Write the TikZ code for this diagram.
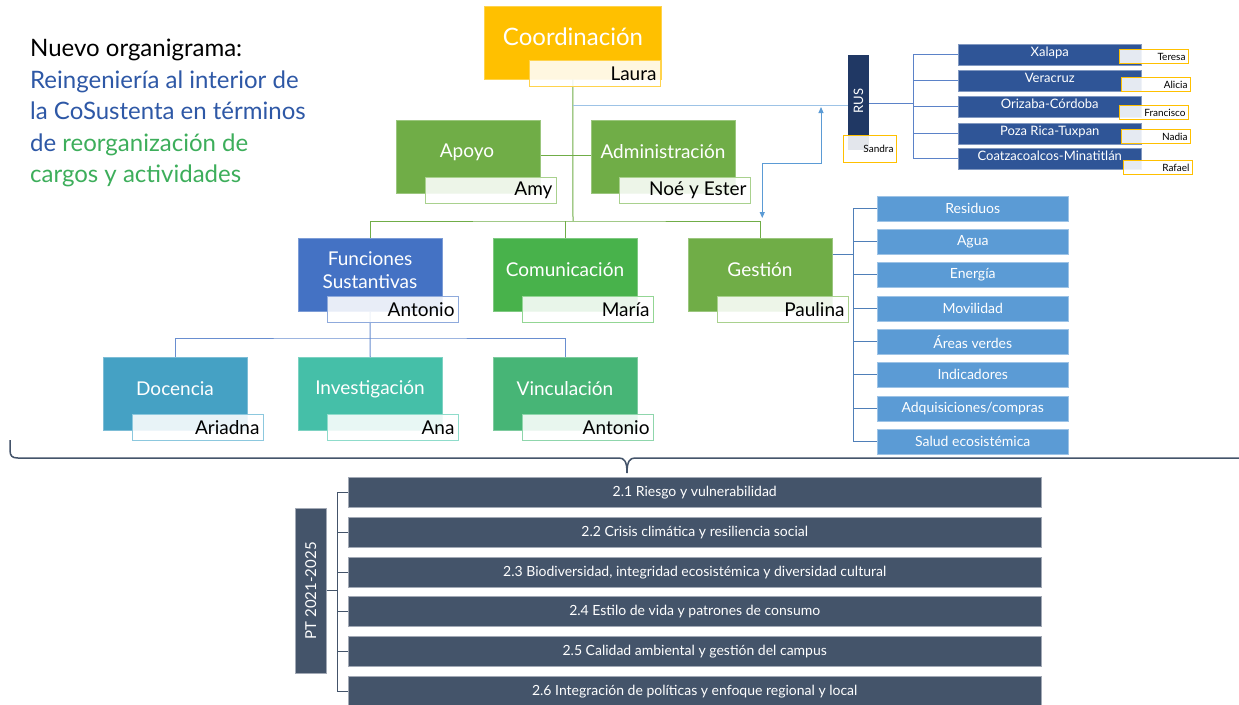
\documentclass[tikz,border=0pt]{standalone}
\usepackage{fontspec}
\setmainfont{Lato}
\usetikzlibrary{arrows.meta}
\definecolor{cY}{HTML}{FFC000}
\definecolor{cYl}{HTML}{FFD34D}
\definecolor{cG}{HTML}{70AD47}
\definecolor{cGl}{HTML}{A9D18E}
\definecolor{cB}{HTML}{4472C4}
\definecolor{cBl}{HTML}{8FAADC}
\definecolor{cC}{HTML}{48B24B}
\definecolor{cCl}{HTML}{93D694}
\definecolor{cD}{HTML}{45A1C4}
\definecolor{cDl}{HTML}{8CC8DE}
\definecolor{cI}{HTML}{45BFA8}
\definecolor{cIl}{HTML}{8FDCCB}
\definecolor{cV}{HTML}{47B576}
\definecolor{cVl}{HTML}{8FD6AC}
\definecolor{cR}{HTML}{203864}
\definecolor{cRg}{HTML}{2F5597}
\definecolor{cGi}{HTML}{5B9BD5}
\definecolor{cS}{HTML}{44546A}
\definecolor{tBlue}{HTML}{2E58A6}
\definecolor{tGreen}{HTML}{3DAE5B}
\definecolor{lnBlue}{HTML}{9DC3E6}
\definecolor{lnRus}{HTML}{5B82C8}
\definecolor{lnGest}{HTML}{4F7FB8}
\begin{document}
\begin{tikzpicture}[x=1pt,y=-1pt,
  box/.style={anchor=north west, minimum width=144pt, minimum height=73pt, inner sep=0pt, fill=#1, draw=#1!70!white, line width=0.5pt},
  txt/.style={text=white, font=\fontsize{19}{22}\selectfont, align=center, inner sep=0pt},
  lbl/.style={anchor=north west, draw=#1, line width=1pt, fill=white, fill opacity=0.88, text opacity=1, inner xsep=4pt, inner ysep=0pt, text width=123pt, minimum height=26pt, align=flush right, font=\fontsize{19}{22}\selectfont},
  rlbl/.style={anchor=north west, draw=cY, line width=1pt, fill=white, fill opacity=0.88, text opacity=1, inner xsep=3pt, inner ysep=0pt, text width=63pt, minimum height=14pt, align=flush right, font=\fontsize{10}{11}\selectfont},
  reg/.style={anchor=north west, fill=cRg, draw=cRg!60!white, line width=0.5pt, minimum width=183pt, minimum height=21pt, inner ysep=0pt, text height=12pt, text depth=9pt, text=white, font=\fontsize{13}{14}\selectfont},
  gitem/.style={anchor=north west, fill=cGi, draw=cGi!60!white, line width=0.5pt, minimum width=191pt, minimum height=25pt, inner sep=0pt, text=white, font=\fontsize{14}{16}\selectfont},
  bar/.style={anchor=north west, fill=cS, draw=cS!50!white, line width=0.5pt, minimum width=693pt, minimum height=30pt, inner sep=0pt, text=white, font=\fontsize{14}{16}\selectfont},
  gline/.style={draw=cG, line width=1pt},
  fsline/.style={draw=cB!80!white, line width=1pt},
  rline/.style={draw=lnRus, line width=1pt},
  gsline/.style={draw=lnGest, line width=1pt},
  sline/.style={draw=cS, line width=1pt},
  barrow/.style={draw=cGi, line width=1pt, {Triangle[width=5pt,length=6pt]}-{Triangle[width=5pt,length=6pt]}}
]
\fill[white] (0,0) rectangle (1239,704);
\useasboundingbox (0,0) rectangle (1239,704);
\clip (0,0) rectangle (1239,704);

% title
\node[anchor=north west, align=left, inner sep=0pt, font=\fontsize{24}{31.5}\selectfont] (title) at (30,39)
  {Nuevo organigrama:\\
   \textcolor{tBlue}{Reingeniería al interior de}\\
   \textcolor{tBlue}{la CoSustenta en términos}\\
   \textcolor{tBlue}{de} \textcolor{tGreen}{reorganización de}\\
   \textcolor{tGreen}{cargos y actividades}};

% coordinates for connectors
\coordinate (hub) at (573,221);
\coordinate (rj) at (573,105);
\coordinate (a1) at (821,163);
\coordinate (fsh) at (370,338);
\coordinate (rh) at (913,103);
\coordinate (gh) at (853,254);
\coordinate (ph) at (337,590);

% boxes (empty shapes)
\node[box=cY, minimum width=177pt] (coord) at (484,6) {};
\node[box=cG] (apoyo) at (396,120) {};
\node[box=cG] (admin) at (591,120) {};
\node[box=cB] (fs) at (298,238) {};
\node[box=cC] (com) at (493,238) {};
\node[box=cG] (gest) at (688,238) {};
\node[box=cD] (doc) at (103,357) {};
\node[box=cI] (inv) at (298,357) {};
\node[box=cV] (vin) at (493,357) {};
\node[anchor=north west, fill=cR, minimum width=21pt, minimum height=95pt, inner sep=0pt] (rus) at (848,55) {};
\node[anchor=north west, fill=cS, draw=cS!50!white, line width=0.5pt, minimum width=31pt, minimum height=165pt, inner sep=0pt] (pt) at (295,508) {};

% connectors
\draw[gline] (coord.south) -- (hub);
\draw[gline] (fs.north) |- (hub) -| (gest.north);
\draw[gline] (com.north) -- (com.north |- hub);
\draw[gline] (apoyo.east |- 0,155) -- (admin.west |- 0,155);
\draw[draw=lnBlue, line width=1pt] (rj) -- (rj -| rus.west);
\draw[barrow] ([yshift=-2pt]a1 |- rj) -- (a1) -| ([yshift=3pt,xshift=2pt]gest.north |- hub);
\draw[fsline] (fs.south) -- (fsh);
\draw[fsline] (doc.north) |- (fsh) -| (vin.north);
\draw[fsline] (inv.north) -- (fsh);

% titles inside boxes
\node[txt, font=\fontsize{24}{28}\selectfont] (coordT) at (573,37) {Coordinación};
\node[txt] (apoyoT) at (467,152) {Apoyo};
\node[txt] (adminT) at (663,152) {Administración};
\node[txt, font=\fontsize{19}{23}\selectfont] (fsT) at (370,270) {Funciones\\Sustantivas};
\node[txt] (comT) at (565,270) {Comunicación};
\node[txt] (gestT) at (760,270) {Gestión};
\node[txt] (docT) at (175,389) {Docencia};
\node[txt] (invT) at (370,389) {Investigación};
\node[txt] (vinT) at (565,389) {Vinculación};

% name labels
\node[lbl=cYl] (laura) at (529,60) {Laura};
\node[lbl=cGl] (amy) at (425,177) {Amy};
\node[lbl=cGl] (noe) at (619,177) {Noé y Ester};
\node[lbl=cBl] (antonio1) at (327,296) {Antonio};
\node[lbl=cCl] (maria) at (522,296) {María};
\node[lbl=cGl] (paulina) at (717,296) {Paulina};
\node[lbl=cDl] (ariadna) at (132,414) {Ariadna};
\node[lbl=cIl] (ana) at (327,414) {Ana};
\node[lbl=cVl] (antonio2) at (522,414) {Antonio};

% RUS
\node[text=white, rotate=90, inner sep=0pt, font=\fontsize{13}{14}\selectfont] (rusT) at (858.5,101) {RUS};
\node[rlbl, text width=47pt, minimum height=27pt] (sandra) at (843,135) {Sandra};
\node[reg] (r1) at (958,44) {Xalapa};
\node[reg] (r2) at (958,70) {Veracruz};
\node[reg] (r3) at (958,96) {Orizaba-Córdoba};
\node[reg] (r4) at (958,123) {Poza Rica-Tuxpan};
\node[reg] (r5) at (958,148) {Coatzacoalcos-Minatitlán};
\draw[rline] (rus.east |- rh) -- (rh);
\draw[rline] (rh |- r1.west) -- (rh |- r5.west);
\foreach \r in {r1,r2,r3,r4,r5} { \draw[rline] (rh |- \r.west) -- (\r.west); }
\node[rlbl] (teresa) at (1119,49) {Teresa};
\node[rlbl] (alicia) at (1121,77) {Alicia};
\node[rlbl] (francisco) at (1119,105) {Francisco};
\node[rlbl] (nadia) at (1121,129) {Nadia};
\node[rlbl] (rafael) at (1123,160) {Rafael};

% Gestion items
\node[gitem] (g1) at (877,196) {Residuos};
\node[gitem] (g2) at (877,229) {Agua};
\node[gitem] (g3) at (877,262) {Energía};
\node[gitem] (g4) at (877,296) {Movilidad};
\node[gitem] (g5) at (877,329) {Áreas verdes};
\node[gitem] (g6) at (877,362) {Indicadores};
\node[gitem] (g7) at (877,396) {Adquisiciones/compras};
\node[gitem] (g8) at (877,429) {Salud ecosistémica};
\draw[gsline] (gh -| gest.east) -- (gh);
\draw[gsline] (gh |- g1.west) -- (gh |- g8.west);
\foreach \g in {g1,g2,g3,g4,g5,g6,g7,g8} { \draw[gsline] (gh |- \g.west) -- (\g.west); }

% brace
\draw[draw=cS, line width=1.5pt] (10,440) -- (10,450) .. controls (10,456) and (12,458) .. (18,458) -- (619,458) .. controls (624,458) and (627,461) .. (627,473) .. controls (627,461) and (630,458) .. (635,458) -- (1239,458);

% bottom bars
\node[bar] (b1) at (348,477) {2.1 Riesgo y vulnerabilidad};
\node[bar] (b2) at (348,517) {2.2 Crisis climática y resiliencia social};
\node[bar] (b3) at (348,557) {2.3 Biodiversidad, integridad ecosistémica y diversidad cultural};
\node[bar] (b4) at (348,596) {2.4 Estilo de vida y patrones de consumo};
\node[bar] (b5) at (348,636) {2.5 Calidad ambiental y gestión del campus};
\node[bar] (b6) at (348,676) {2.6 Integración de políticas y enfoque regional y local};
\node[text=white, rotate=90, inner sep=0pt, font=\fontsize{15}{17}\selectfont] (ptT) at (pt.center) {PT 2021-2025};
\draw[sline] (pt.east) -- (pt.east -| ph);
\draw[sline] (ph |- b1.west) -- (ph |- b6.west);
\foreach \b in {b1,b2,b3,b4,b5,b6} { \draw[sline] (ph |- \b.west) -- (\b.west); }
\end{tikzpicture}
\end{document}
